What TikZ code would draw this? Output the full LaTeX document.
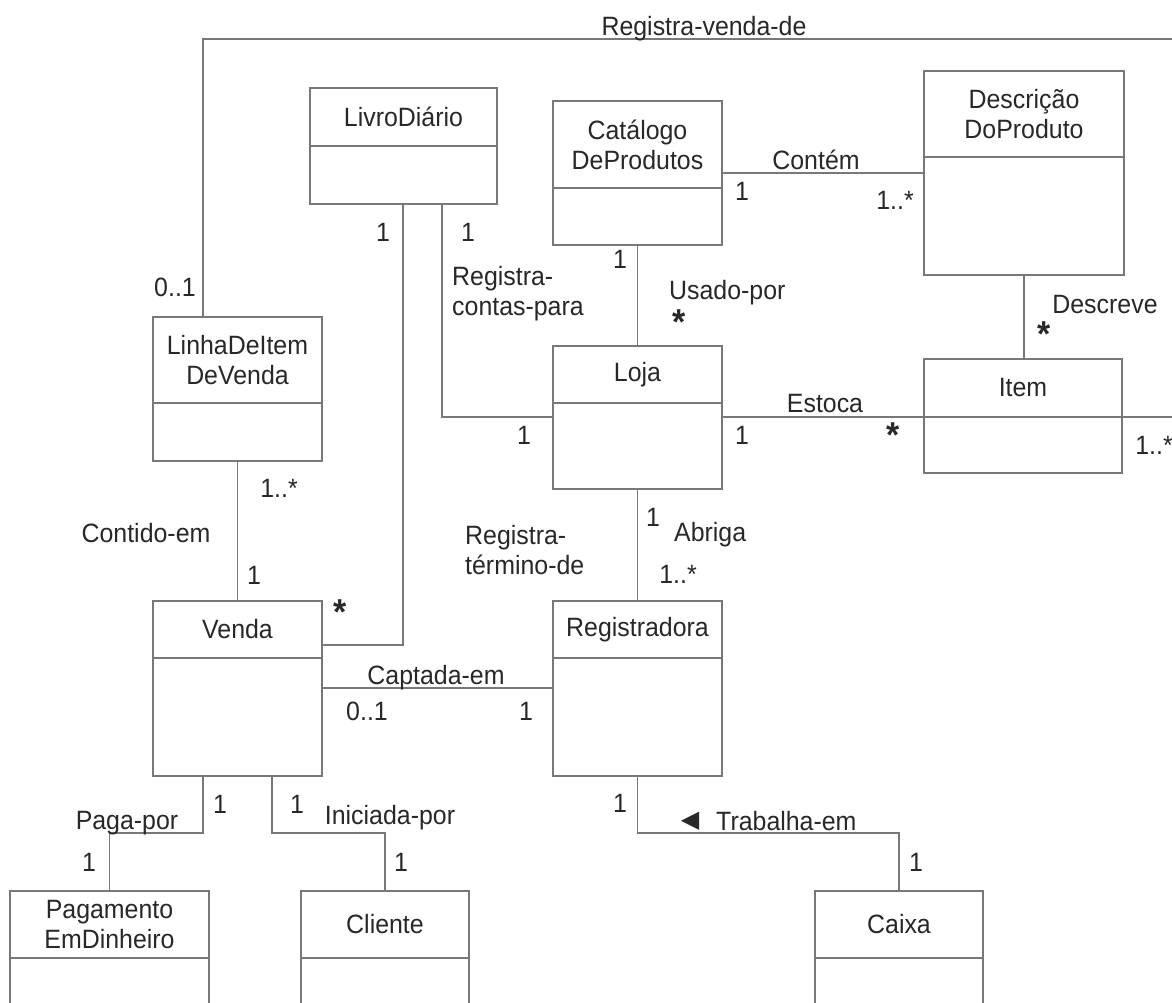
\documentclass[tikz,border=0pt]{standalone}
\usepackage{fontspec}
\setmainfont{Liberation Sans}[FakeStretch=0.94]
\newfontfamily\symfont{DejaVu Sans}
\usetikzlibrary{calc}
\definecolor{lg}{RGB}{120,120,120}
\definecolor{tg}{RGB}{40,40,40}
\tikzset{
  ln/.style={draw=lg, line width=1.3pt},
  clsbox/.style={draw=lg, line width=1.3pt, fill=none, inner sep=0pt, outer sep=0pt, rectangle},
  lbl/.style={text=tg, inner sep=0pt, text height=19pt, text depth=0pt, font=\fontsize{26.5}{30}\selectfont},
  mlbl/.style={text=tg, inner sep=0pt, align=left, anchor=north west, font=\fontsize{26.5}{30}\selectfont},
  ttl/.style={text=tg, inner sep=0pt, align=center, font=\fontsize{26.5}{30}\selectfont},
  starlbl/.style={text=tg, inner sep=0pt, font=\bfseries\fontsize{36}{36}\selectfont},
}
\newcommand\umlcls[7]{%
  \node[clsbox, minimum width={#4-#2}, minimum height={#5-#3}, anchor=north west] (#1) at (#2,#3) {};
  \draw[ln] (#2,#6) -- (#4,#6);
  \node[ttl] (#1-t) at ({(#2+#4)/2},{(#3+#6)/2}) {#7};
}
\newcommand\mstar{\raisebox{-8.5pt}{*}}
\begin{document}
\begin{tikzpicture}[x=1pt,y=-1pt]
\useasboundingbox (0,0) rectangle (1172,1003);
\clip (0,0) rectangle (1172,1003);
\fill[white] (0,0) rectangle (1172,1003);

% classes
\umlcls{livro}{310}{88}{497}{204}{146}{LivroDiário}
\umlcls{catalogo}{553}{101}{722}{245}{188}{Catálogo\\DeProdutos}
\umlcls{desc}{924}{71}{1124}{275}{157}{Descrição\\DoProduto}
\umlcls{linha}{153}{317}{322}{461}{403}{LinhaDeItem\\DeVenda}
\umlcls{loja}{553}{346}{722}{489}{403}{Loja}
\umlcls{item}{924}{359}{1122}{473}{417}{Item}
\umlcls{venda}{153}{601}{322}{776}{658}{Venda}
\umlcls{regist}{553}{601}{722}{776}{658}{Registradora}
\umlcls{pag}{10}{891}{209}{1020}{958}{Pagamento\\EmDinheiro}
\umlcls{cliente}{301}{891}{469}{1020}{958}{Cliente}
\umlcls{caixa}{815}{891}{983}{1020}{958}{Caixa}

% free ends at the picture edge
\coordinate (edgeTop) at (1180,39);
\coordinate (edgeItem) at (1180,417);

% connectors
\draw[ln] (linha.north -| 203,0) |- (edgeTop);
\draw[ln] (catalogo.east |- 0,173) -- (desc.west |- 0,173);
\draw[ln] (catalogo.south) -- (loja.north);
\draw[ln] (desc.south) -- (desc.south |- item.north);
\draw[ln] (loja.east |- 0,417) -- (item.west |- 0,417);
\draw[ln] (item.east |- 0,417) -- (edgeItem);
\draw[ln] (livro.south -| 442,0) |- (loja.west |- 0,417);
\draw[ln] (livro.south -| 403,0) |- (venda.east |- 0,645);
\draw[ln] (linha.south) -- (venda.north);
\draw[ln] (loja.south) -- (regist.north);
\draw[ln] (venda.east |- 0,688) -- (regist.west |- 0,688);
\draw[ln] (venda.south -| 203,0) -- ++(0,57) -| (pag.north);
\draw[ln] (venda.south -| 272,0) -- ++(0,57) -| (cliente.north);
\draw[ln] (regist.south) -- ++(0,57) -| (caixa.north);

% association names
\node[lbl] (rvd) at (704,26) {Registra-venda-de};
\node[mlbl] (rcp) at (452,266) {Registra-\\contas-para};
\node[lbl] (contem) at (816,160) {Contém};
\node[lbl, anchor=west] (usado) at (669,290) {Usado-por};
\node[lbl] (descreve) at (1105,304) {Descreve};
\node[lbl] (estoca) at (825,403) {Estoca};
\node[lbl] (contido) at (146,533) {Contido-em};
\node[mlbl] (rtd) at (465,525) {Registra-\\término-de};
\node[lbl, anchor=west] (abriga) at (674,532) {Abriga};
\node[lbl] (captada) at (436,675) {Captada-em};
\node[lbl] (paga) at (127,820) {Paga-por};
\node[lbl] (iniciada) at (390,815) {Iniciada-por};
\node[text=tg, inner sep=0pt, font=\symfont\fontsize{24}{24}\selectfont] (tri) at (690,821) {◀};
\node[lbl, anchor=west] (trabalha) at (716,821) {Trabalha-em};

% multiplicities
\node[lbl] (m1) at (175,287) {0..1};
\node[lbl] (m2) at (383,232) {1};
\node[lbl] (m3) at (468,232) {1};
\node[lbl] (m4) at (742,191) {1};
\node[lbl] (m5) at (895,200) {1..*};
\node[lbl] (m6) at (620,259) {1};
\node[starlbl] (m7) at (679,322) {\mstar};
\node[starlbl] (m8) at (1044,334) {\mstar};
\node[lbl] (m9) at (742,435) {1};
\node[starlbl] (m10) at (893,435) {\mstar};
\node[lbl] (m11) at (1154,445) {1..*};
\node[lbl] (m12) at (524,435) {1};
\node[lbl] (m13) at (279,488) {1..*};
\node[lbl] (m14) at (254,575) {1};
\node[lbl] (m15) at (653,517) {1};
\node[lbl] (m16) at (678,574) {1..*};
\node[starlbl] (m17) at (340,612) {\mstar};
\node[lbl] (m18) at (367,711) {0..1};
\node[lbl] (m19) at (526,711) {1};
\node[lbl] (m20) at (220,804) {1};
\node[lbl] (m21) at (89,862) {1};
\node[lbl] (m22) at (297,804) {1};
\node[lbl] (m23) at (401,862) {1};
\node[lbl] (m24) at (620,803) {1};
\node[lbl] (m25) at (916,862) {1};
\end{tikzpicture}
\end{document}
